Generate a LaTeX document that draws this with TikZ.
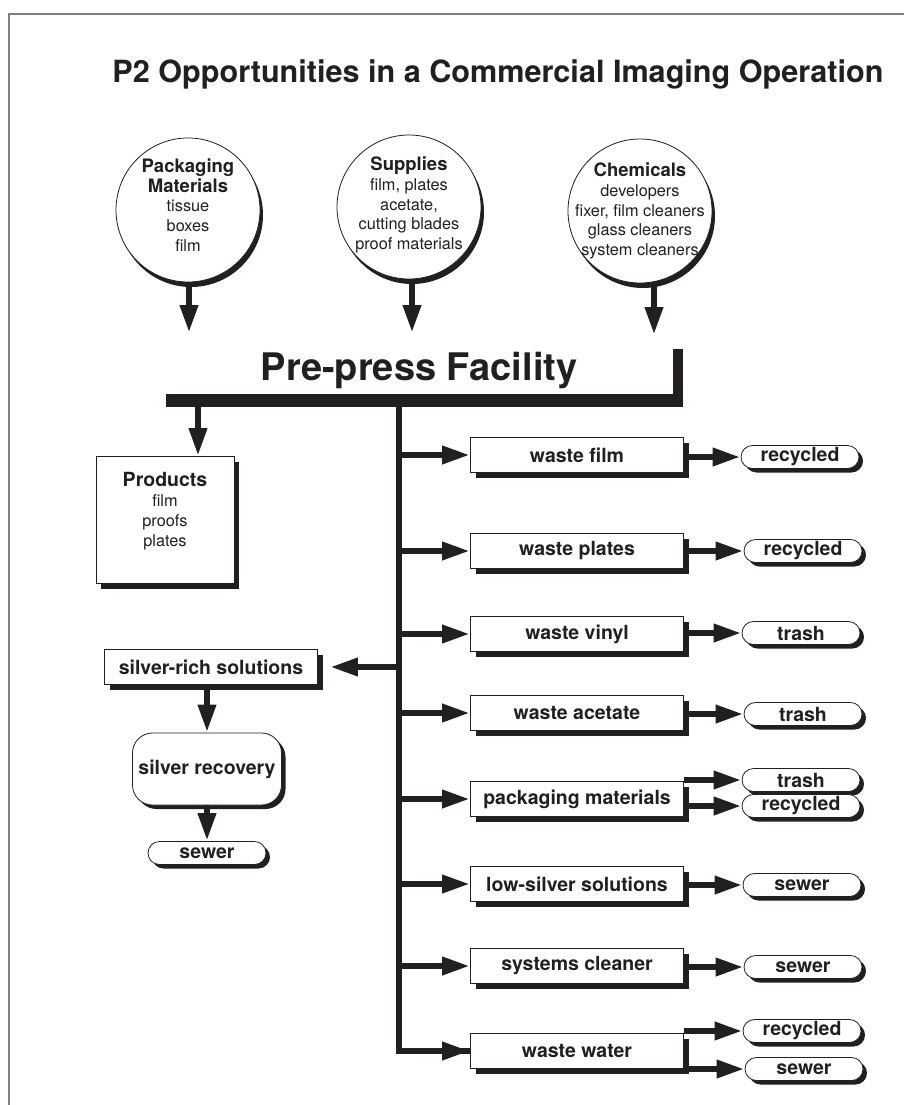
\documentclass[tikz,border=0pt]{standalone}
\usepackage{fontspec}
\setmainfont{TeX Gyre Heros}
\usetikzlibrary{arrows.meta,calc,shadows}
\definecolor{ink}{HTML}{231F20}
\definecolor{framegray}{HTML}{808080}
\newcommand{\headfont}{\fontsize{18.5}{22}\selectfont\bfseries}
\newcommand{\labelfont}{\fontsize{19.5}{23}\selectfont\bfseries}
\newcommand{\listfont}{\fontsize{16.3}{19.8}\selectfont}
\tikzset{
  flow/.style={-{Triangle[length=28pt,width=17pt]},line width=6.5pt,ink},
  feedbar/.style={line width=13pt,ink},
  hardshadow/.style={drop shadow={shadow xshift=5pt,shadow yshift=-5pt,fill=ink,opacity=1}},
  source/.style={circle,draw=ink,line width=0.8pt,fill=white,minimum size=144pt,inner sep=0pt,
    drop shadow={shadow xshift=3pt,shadow yshift=-5pt,fill=ink,opacity=1}},
  sourcetext/.style={align=center,font=\listfont,text=ink,inner sep=0pt},
  prodbox/.style={draw=ink,line width=0.8pt,fill=white,minimum width=138pt,minimum height=127pt,inner sep=0pt,hardshadow},
  wastebox/.style={draw=ink,line width=0.8pt,fill=white,minimum width=213pt,minimum height=35pt,inner sep=0pt,
    font=\labelfont,text=ink,hardshadow},
  pill/.style={draw=ink,line width=0.8pt,fill=white,rounded corners=11.5pt,minimum width=118pt,minimum height=23pt,
    inner sep=0pt,font=\labelfont,text=ink,drop shadow={shadow xshift=4pt,shadow yshift=-4pt,fill=ink,opacity=1}},
  recovery/.style={draw=ink,line width=0.8pt,fill=white,rounded corners=20pt,minimum width=149pt,minimum height=72pt,
    inner sep=0pt,font=\labelfont,text=ink,drop shadow={shadow xshift=4pt,shadow yshift=-4pt,fill=ink,opacity=1}}
}

\begin{document}
\begin{tikzpicture}[x=1pt,y=-1pt]
  \useasboundingbox (0,0) rectangle (904,1105);
  \draw[framegray,line width=2pt] (9,1105) -- (9,14) -- (904,14);
  \node[font=\fontsize{30.6}{36}\selectfont\bfseries,text=ink,anchor=base] (title) at (498,83)
    {P2 Opportunities in a Commercial Imaging Operation};

  % inputs
  \node[source] (pack) at (188,210) {};
  \node[source] (supp) at (409,207) {};
  \node[source] (chem) at (640,211) {};
  \node[sourcetext] (packtext) at (188,205)
    {\headfont Packaging\\\headfont Materials\\tissue\\boxes\\film};
  \node[sourcetext] (supptext) at (409,205)
    {\headfont Supplies\\film, plates\\acetate,\\cutting blades\\proof materials};
  \node[sourcetext] (chemtext) at (640,211)
    {\headfont Chemicals\\developers\\fixer, film cleaners\\glass cleaners\\system cleaners};
  \coordinate (packin) at (189,333);
  \coordinate (suppin) at (412,333);
  \coordinate (chemin) at (654,335);
  \draw[flow] (pack.south -| packin) -- (packin);
  \draw[flow] (supp.south -| suppin) -- (suppin);
  \draw[flow] (chem.south -| chemin) -- (chemin);

  % facility
  \node[font=\fontsize{38}{44}\selectfont\bfseries,text=ink,anchor=base] (facility) at (419,380) {Pre-press Facility};
  \coordinate (barL) at (166,400);
  \coordinate (barR) at (683,400);
  \coordinate (barT) at (678,349);
  \coordinate (trunktop) at (399,400);
  \coordinate (prodtap) at (198,400);
  \draw[feedbar] (barL) -- (barR);
  \draw[ink,line width=10pt] (barT) -- (barT |- barL);

  % products
  \node[prodbox] (products) at (165,520) {};
  \node[sourcetext] (prodtext) at (165,511) {\labelfont Products\\film\\proofs\\plates};
  \draw[flow] (prodtap) -- (prodtap |- products.north);

  % waste streams
  \draw[flow] (trunktop) |- (577,1051);
  \foreach \nm/\yy/\lbl in {wfilm/455/waste film, wplates/551/waste plates, wvinyl/634/waste vinyl,
      wacetate/713/waste acetate, wpack/799/packaging materials, wlowag/884/low-silver solutions,
      wsys/966/systems cleaner, wwater/1051/waste water}{
    \node[wastebox] (\nm) at (577,\yy) {\lbl};
    \draw[flow] (trunktop |- \nm.west) -- (\nm.west);
  }

  \node[pill] (rfilm) at (800,457) {recycled};
  \node[pill] (rplates) at (803,551) {recycled};
  \node[pill] (tvinyl) at (801,633) {trash};
  \node[pill] (tacetate) at (803,714) {trash};
  \node[pill] (tpack) at (801,780) {trash};
  \node[pill] (rpack) at (801,806) {recycled};
  \node[pill] (slowag) at (802,885) {sewer};
  \node[pill] (ssys) at (803,967) {sewer};
  \node[pill] (rwater) at (802,1031) {recycled};
  \node[pill] (swater) at (804,1069) {sewer};
  \draw[flow] (wfilm.east |- rfilm.west) -- (rfilm.west);
  \draw[flow] (wplates.east |- rplates.west) -- (rplates.west);
  \draw[flow] (wvinyl.east |- tvinyl.west) -- (tvinyl.west);
  \draw[flow] (wacetate.east |- tacetate.west) -- (tacetate.west);
  \draw[flow] (wpack.east |- tpack.west) -- (tpack.west);
  \draw[flow] (wpack.east |- rpack.west) -- (rpack.west);
  \draw[flow] (wlowag.east |- slowag.west) -- (slowag.west);
  \draw[flow] (wsys.east |- ssys.west) -- (ssys.west);
  \draw[flow] (wwater.east |- rwater.west) -- (rwater.west);
  \draw[flow] (wwater.east |- swater.west) -- (swater.west);

  % silver recovery
  \node[wastebox] (silverrich) at (211,667) {silver-rich solutions};
  \node[recovery] (recover) at (207,769) {silver recovery};
  \node[pill] (sewerag) at (207,853) {sewer};
  \draw[flow] (trunktop |- silverrich.east) -- ([xshift=12pt]silverrich.east);
  \draw[flow] (recover.north |- silverrich.south) -- (recover.north);
  \draw[flow] (recover.south) -- (sewerag.north);
\end{tikzpicture}
\end{document}
